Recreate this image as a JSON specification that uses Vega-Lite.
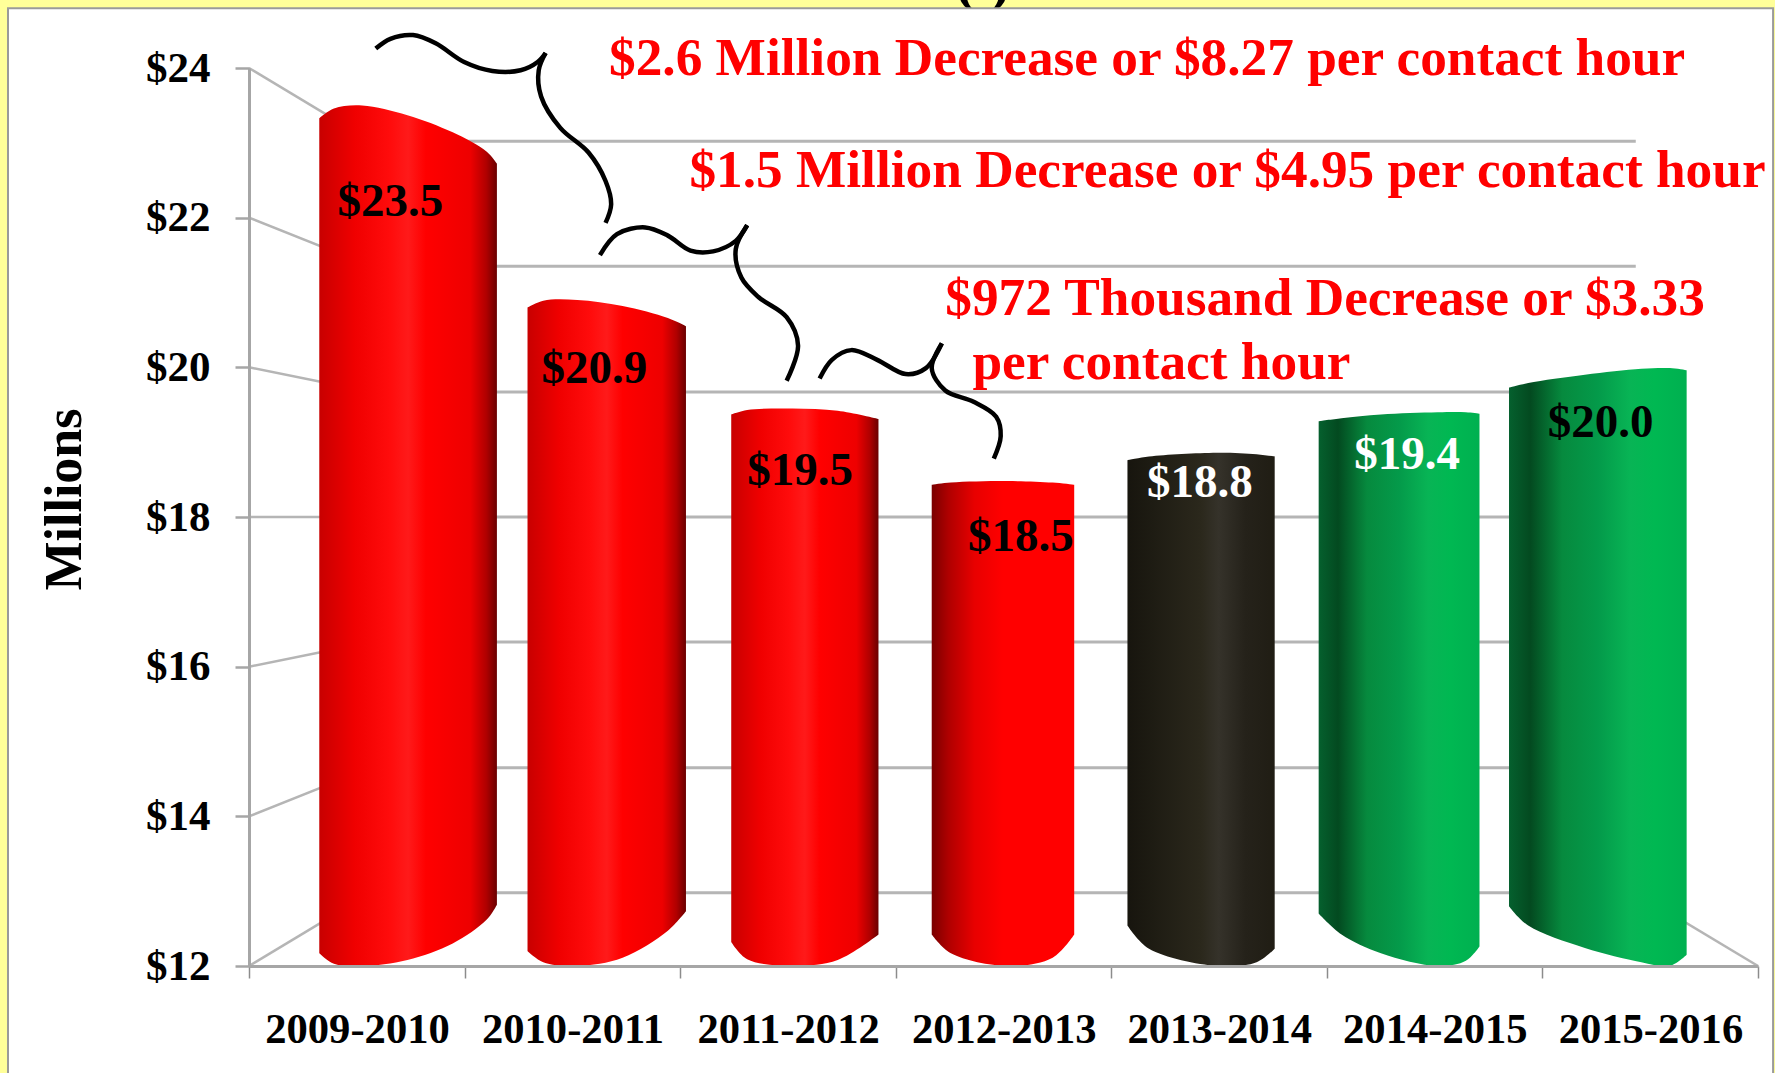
{
"$schema":"https://vega.github.io/schema/vega-lite/v6.json",
"width":1509,"height":898,
"autosize":{"type":"none"},
"padding":{"left":249,"top":68,"right":17,"bottom":107},
"background":"#FFFF99",
"config":{"view":{"stroke":null},"text":{"font":"Liberation Serif","fontWeight":"bold"}},
"datasets":{
"frame":[{"x0":-1.118,"x1":7.07,"y0":10.3,"y1":24.8}],
"cut":[{"t":"( )","x":3.404,"y":24.91}],
"back":[{"x0":0.566,"x1":6.433,"y":23.02},{"x0":0.566,"x1":6.433,"y":21.35},{"x0":0.566,"x1":6.433,"y":19.67},{"x0":0.566,"x1":6.433,"y":18.0},{"x0":0.566,"x1":6.433,"y":16.33},{"x0":0.566,"x1":6.433,"y":14.65},{"x0":0.566,"x1":6.433,"y":12.98}],
"side":[{"x0":0,"x1":0.566,"y0":24,"y1":23.02},{"x0":0,"x1":0.566,"y0":22,"y1":21.35},{"x0":0,"x1":0.566,"y0":20,"y1":19.67},{"x0":0,"x1":0.566,"y0":18,"y1":18},{"x0":0,"x1":0.566,"y0":16,"y1":16.33},{"x0":0,"x1":0.566,"y0":14,"y1":14.65},{"x0":0,"x1":0.566,"y0":12,"y1":12.98},{"x0":7,"x1":6.433,"y0":12,"y1":12.98}],
"outline":[
{"bar":1,"x":0.326,"top":23.33,"bot":12.17},{"bar":1,"x":0.394,"top":23.46,"bot":12.03},{"bar":1,"x":0.525,"top":23.5,"bot":12},{"bar":1,"x":0.735,"top":23.37,"bot":12.08},{"bar":1,"x":0.945,"top":23.14,"bot":12.3},{"bar":1,"x":1.103,"top":22.88,"bot":12.62},{"bar":1,"x":1.15,"top":22.72,"bot":12.82},
{"bar":2,"x":1.292,"top":20.8,"bot":12.2},{"bar":2,"x":1.365,"top":20.89,"bot":12.05},{"bar":2,"x":1.523,"top":20.9,"bot":12},{"bar":2,"x":1.733,"top":20.82,"bot":12.11},{"bar":2,"x":1.943,"top":20.66,"bot":12.47},{"bar":2,"x":2.027,"top":20.55,"bot":12.73},
{"bar":3,"x":2.237,"top":19.37,"bot":12.32},{"bar":3,"x":2.311,"top":19.43,"bot":12.09},{"bar":3,"x":2.521,"top":19.45,"bot":12},{"bar":3,"x":2.731,"top":19.42,"bot":12.08},{"bar":3,"x":2.92,"top":19.31,"bot":12.42},
{"bar":4,"x":3.167,"top":18.43,"bot":12.42},{"bar":4,"x":3.256,"top":18.46,"bot":12.17},{"bar":4,"x":3.518,"top":18.48,"bot":12},{"bar":4,"x":3.728,"top":18.46,"bot":12.11},{"bar":4,"x":3.828,"top":18.43,"bot":12.42},
{"bar":5,"x":4.075,"top":18.76,"bot":12.54},{"bar":5,"x":4.175,"top":18.81,"bot":12.23},{"bar":5,"x":4.49,"top":18.86,"bot":12},{"bar":5,"x":4.674,"top":18.84,"bot":12.05},{"bar":5,"x":4.758,"top":18.81,"bot":12.23},
{"bar":6,"x":4.962,"top":19.28,"bot":12.7},{"bar":6,"x":5.068,"top":19.32,"bot":12.42},{"bar":6,"x":5.251,"top":19.37,"bot":12.17},{"bar":6,"x":5.514,"top":19.4,"bot":12},{"bar":6,"x":5.645,"top":19.4,"bot":12.07},{"bar":6,"x":5.708,"top":19.38,"bot":12.26},
{"bar":7,"x":5.845,"top":19.73,"bot":12.8},{"bar":7,"x":5.934,"top":19.79,"bot":12.54},{"bar":7,"x":6.197,"top":19.9,"bot":12.24},{"bar":7,"x":6.459,"top":19.98,"bot":12.05},{"bar":7,"x":6.591,"top":19.99,"bot":12},{"bar":7,"x":6.669,"top":19.96,"bot":12.15}],
"labels":[
{"t":"$23.5","x":0.656,"y":22.02,"c":"black"},{"t":"$20.9","x":1.602,"y":19.79,"c":"black"},{"t":"$19.5","x":2.557,"y":18.43,"c":"black"},{"t":"$18.5","x":3.581,"y":17.54,"c":"black"},{"t":"$18.8","x":4.411,"y":18.27,"c":"white"},{"t":"$19.4","x":5.372,"y":18.64,"c":"white"},{"t":"$20.0","x":6.27,"y":19.07,"c":"black"}],
"notes":[
{"t":"$2.6 Million Decrease or $8.27 per contact hour","x":1.67,"y":23.91},
{"t":"$1.5 Million Decrease or $4.95 per contact hour","x":2.043,"y":22.41},
{"t":"$972 Thousand Decrease or $3.33","x":3.23,"y":20.7},
{"t":"per contact hour","x":3.356,"y":19.85}],
"braces":[
{"b":"1a","o":1,"x":0.588,"y":24.26},{"b":"1a","o":2,"x":0.656,"y":24.39},{"b":"1a","o":3,"x":0.761,"y":24.44},{"b":"1a","o":4,"x":0.866,"y":24.33},{"b":"1a","o":5,"x":0.998,"y":24.08},{"b":"1a","o":6,"x":1.129,"y":23.96},{"b":"1a","o":7,"x":1.26,"y":23.97},{"b":"1a","o":8,"x":1.339,"y":24.08},{"b":"1a","o":9,"x":1.376,"y":24.2},
{"b":"1b","o":1,"x":1.376,"y":24.2},{"b":"1b","o":2,"x":1.344,"y":23.97},{"b":"1b","o":3,"x":1.355,"y":23.62},{"b":"1b","o":4,"x":1.444,"y":23.2},{"b":"1b","o":5,"x":1.575,"y":22.87},{"b":"1b","o":6,"x":1.654,"y":22.49},{"b":"1b","o":7,"x":1.68,"y":22.18},{"b":"1b","o":8,"x":1.654,"y":21.93},
{"b":"2a","o":1,"x":1.628,"y":21.5},{"b":"2a","o":2,"x":1.707,"y":21.78},{"b":"2a","o":3,"x":1.838,"y":21.87},{"b":"2a","o":4,"x":1.943,"y":21.76},{"b":"2a","o":5,"x":2.048,"y":21.56},{"b":"2a","o":6,"x":2.153,"y":21.55},{"b":"2a","o":7,"x":2.258,"y":21.69},{"b":"2a","o":8,"x":2.311,"y":21.9},
{"b":"2b","o":1,"x":2.311,"y":21.9},{"b":"2b","o":2,"x":2.258,"y":21.58},{"b":"2b","o":3,"x":2.284,"y":21.2},{"b":"2b","o":4,"x":2.363,"y":20.94},{"b":"2b","o":5,"x":2.494,"y":20.67},{"b":"2b","o":6,"x":2.547,"y":20.29},{"b":"2b","o":7,"x":2.494,"y":19.82},
{"b":"3a","o":1,"x":2.647,"y":19.85},{"b":"3a","o":2,"x":2.704,"y":20.1},{"b":"3a","o":3,"x":2.794,"y":20.23},{"b":"3a","o":4,"x":2.914,"y":20.1},{"b":"3a","o":5,"x":3.046,"y":19.91},{"b":"3a","o":6,"x":3.14,"y":19.99},{"b":"3a","o":7,"x":3.214,"y":20.32},
{"b":"3b","o":1,"x":3.214,"y":20.32},{"b":"3b","o":2,"x":3.167,"y":19.99},{"b":"3b","o":3,"x":3.23,"y":19.69},{"b":"3b","o":4,"x":3.361,"y":19.54},{"b":"3b","o":5,"x":3.466,"y":19.34},{"b":"3b","o":6,"x":3.487,"y":19.08},{"b":"3b","o":7,"x":3.455,"y":18.78}]
},
"layer":[
{"data":{"name":"cut"},"mark":{"type":"text","fontSize":60,"align":"center","baseline":"alphabetic","color":"black"},
 "encoding":{"x":{"field":"x","type":"quantitative"},"y":{"field":"y","type":"quantitative"},"text":{"field":"t"}}},
{"data":{"name":"frame"},"mark":{"type":"rect","fill":"white","stroke":"#9a9a9a","strokeWidth":2,"clip":false},
 "encoding":{
  "x":{"field":"x0","type":"quantitative","scale":{"domain":[0,7],"nice":false,"zero":false},
   "axis":{"zindex":1,"title":null,"grid":false,"values":[0,1,2,3,4,5,6,7],"labelExpr":"['2009-2010','2010-2011','2011-2012','2012-2013','2013-2014','2014-2015','2015-2016',''][datum.value]","labelOffset":108,"labelFont":"Liberation Serif","labelFontWeight":"bold","labelFontSize":42.6,"labelLimit":400,"labelColor":"black","labelPadding":30,"labelFlush":false,"labelOverlap":false,"labelBaseline":"top","domainColor":"#a6a6a6","domainWidth":3,"tickColor":"#8c8c8c","tickWidth":1.5,"tickSize":12}},
  "x2":{"field":"x1"},
  "y":{"field":"y0","type":"quantitative","scale":{"domain":[12,24],"nice":false,"zero":false},
   "axis":{"zindex":1,"title":"Millions","titleFont":"Liberation Serif","titleFontWeight":"bold","titleFontSize":52,"titleColor":"black","titleX":-158,"titleY":431,"values":[12,14,16,18,20,22,24],"grid":false,"labelExpr":"'$'+datum.value","labelFont":"Liberation Serif","labelFontWeight":"bold","labelFontSize":43,"labelColor":"black","labelPadding":25,"labelOverlap":false,"labelFlush":false,"domainColor":"#a6a6a6","domainWidth":3,"tickColor":"#a6a6a6","tickWidth":2.5,"tickSize":14}},
  "y2":{"field":"y1"}}},
{"data":{"name":"back"},"mark":{"type":"rule","stroke":"#b5b5b5","strokeWidth":3},
 "encoding":{"x":{"field":"x0","type":"quantitative"},"x2":{"field":"x1"},"y":{"field":"y","type":"quantitative"}}},
{"data":{"name":"side"},"mark":{"type":"rule","stroke":"#b5b5b5","strokeWidth":2.5},
 "encoding":{"x":{"field":"x0","type":"quantitative"},"x2":{"field":"x1"},"y":{"field":"y0","type":"quantitative"},"y2":{"field":"y1"}}},
{"data":{"name":"outline"},"transform":[{"filter":"datum.bar<=3"}],
 "mark":{"type":"area","interpolate":"catmull-rom","color":{"gradient":"linear","x1":0,"x2":1,"y1":0,"y2":0,"stops":[{"offset":0,"color":"#c80000"},{"offset":0.2,"color":"#f00000"},{"offset":0.4,"color":"#ff0c0c"},{"offset":0.5,"color":"#ff1a1a"},{"offset":0.6,"color":"#ff0000"},{"offset":0.85,"color":"#ee0000"},{"offset":0.94,"color":"#b00000"},{"offset":1,"color":"#6a0000"}]}},
 "encoding":{"x":{"field":"x","type":"quantitative"},"y":{"field":"top","type":"quantitative"},"y2":{"field":"bot"},"detail":{"field":"bar"}}},
{"data":{"name":"outline"},"transform":[{"filter":"datum.bar==4"}],
 "mark":{"type":"area","interpolate":"catmull-rom","color":{"gradient":"linear","x1":0,"x2":1,"y1":0,"y2":0,"stops":[{"offset":0,"color":"#7a0000"},{"offset":0.12,"color":"#b00000"},{"offset":0.3,"color":"#e80000"},{"offset":0.5,"color":"#ff0000"},{"offset":1,"color":"#ff0000"}]}},
 "encoding":{"x":{"field":"x","type":"quantitative"},"y":{"field":"top","type":"quantitative"},"y2":{"field":"bot"}}},
{"data":{"name":"outline"},"transform":[{"filter":"datum.bar==5"}],
 "mark":{"type":"area","interpolate":"catmull-rom","color":{"gradient":"linear","x1":0,"x2":1,"y1":0,"y2":0,"stops":[{"offset":0,"color":"#17150e"},{"offset":0.5,"color":"#2b281c"},{"offset":0.62,"color":"#35322a"},{"offset":0.8,"color":"#25221a"},{"offset":1,"color":"#201d14"}]}},
 "encoding":{"x":{"field":"x","type":"quantitative"},"y":{"field":"top","type":"quantitative"},"y2":{"field":"bot"}}},
{"data":{"name":"outline"},"transform":[{"filter":"datum.bar>=6"}],
 "mark":{"type":"area","interpolate":"catmull-rom","color":{"gradient":"linear","x1":0,"x2":1,"y1":0,"y2":0,"stops":[{"offset":0,"color":"#05602e"},{"offset":0.12,"color":"#034a20"},{"offset":0.3,"color":"#068a3e"},{"offset":0.5,"color":"#049a4a"},{"offset":0.68,"color":"#08b455"},{"offset":0.82,"color":"#00b852"},{"offset":1,"color":"#00b050"}]}},
 "encoding":{"x":{"field":"x","type":"quantitative"},"y":{"field":"top","type":"quantitative"},"y2":{"field":"bot"},"detail":{"field":"bar"}}},
{"data":{"name":"braces"},"mark":{"type":"line","interpolate":"catmull-rom","stroke":"black","strokeWidth":4.5},
 "encoding":{"x":{"field":"x","type":"quantitative"},"y":{"field":"y","type":"quantitative"},"detail":{"field":"b"},"order":{"field":"o"}}},
{"data":{"name":"labels"},"mark":{"type":"text","fontSize":47,"align":"center","baseline":"alphabetic"},
 "encoding":{"x":{"field":"x","type":"quantitative"},"y":{"field":"y","type":"quantitative"},"text":{"field":"t"},"color":{"field":"c","type":"nominal","scale":null}}},
{"data":{"name":"notes"},"mark":{"type":"text","fontSize":53.3,"align":"left","baseline":"alphabetic","color":"#ff0000"},
 "encoding":{"x":{"field":"x","type":"quantitative"},"y":{"field":"y","type":"quantitative"},"text":{"field":"t"}}}
]
}
